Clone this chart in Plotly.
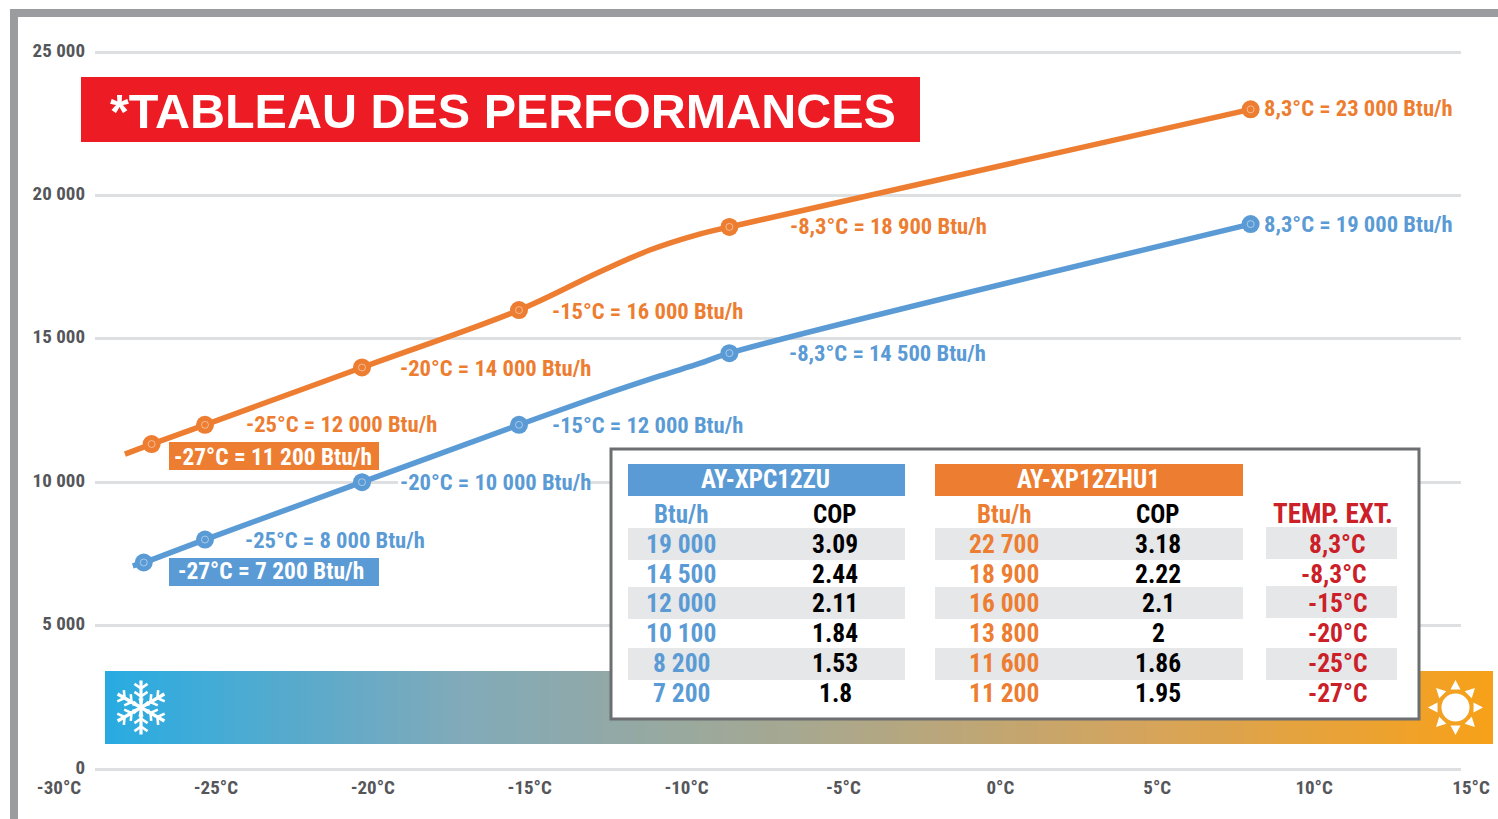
import math
import plotly.graph_objects as go

W, H = 1498, 819
NARROW = "Roboto Condensed, Open Sans Condensed, sans-serif"
BLUE, ORANGE, RED, GREY = "#5B9BD5", "#ED7D31", "#CB2027", "#55565A"

# ---- data
orange_temp = [-26.7, -25, -20, -15, -8.3, 8.3]
orange_btu = [11330, 12000, 14000, 16000, 18900, 23000]
blue_temp = [-26.95, -25, -20, -15, -8.3, 8.3]
blue_btu = [7200, 8000, 10000, 12000, 14500, 19000]
orange_curve_temp = [-27.55, -26.7, -25, -20, -15, -12.42, -10.83, -9.25, -8.3, 8.3]
orange_curve_btu = [10980, 11330, 12000, 14000, 16000, 17340, 18095, 18650, 18900, 23000]
blue_curve_temp = [-27.3, -26.95, -25, -20, -15, -12.42, -10.51, -9.25, -8.3, 8.3]
blue_curve_btu = [7080, 7200, 8000, 10000, 12000, 13006, 13704, 14140, 14500, 19000]
orange_labels = ["-25°C = 12 000 Btu/h", "-20°C = 14 000 Btu/h", "-15°C = 16 000 Btu/h",
                 "-8,3°C = 18 900 Btu/h", "8,3°C = 23 000 Btu/h"]
blue_labels = ["-25°C = 8 000 Btu/h", "-20°C = 10 000 Btu/h", "-15°C = 12 000 Btu/h",
               "-8,3°C = 14 500 Btu/h", "8,3°C = 19 000 Btu/h"]
label_orange_27 = "-27°C = 11 200 Btu/h"
label_blue_27 = "-27°C = 7 200 Btu/h"
x_ticks = [-30, -25, -20, -15, -10, -5, 0, 5, 10, 15]
x_ticktext = ["-30°C", "-25°C", "-20°C", "-15°C", "-10°C", "-5°C", "0°C", "5°C", "10°C", "15°C"]
y_ticks = [0, 5000, 10000, 15000, 20000, 25000]
y_ticktext = ["0", "5 000", "10 000", "15 000", "20 000", "25 000"]
title_text = "*TABLEAU DES PERFORMANCES"
model_blue = "AY-XPC12ZU"
model_orange = "AY-XP12ZHU1"
col_btu = "Btu/h"
col_cop = "COP"
col_temp = "TEMP. EXT."
blue_table_btu = ["19 000", "14 500", "12 000", "10 100", "8 200", "7 200"]
blue_table_cop = ["3.09", "2.44", "2.11", "1.84", "1.53", "1.8"]
orange_table_btu = ["22 700", "18 900", "16 000", "13 800", "11 600", "11 200"]
orange_table_cop = ["3.18", "2.22", "2.1", "2", "1.86", "1.95"]
table_temps = ["8,3°C", "-8,3°C", "-15°C", "-20°C", "-25°C", "-27°C"]

# ---- layout helpers
def fx(px): return px / W
def fy(py): return 1 - py / H

shapes, ann = [], []

def rect(x0, y0, x1, y1, fill, layer="above", line=None, lw=0):
    shapes.append(dict(type="rect", xref="paper", yref="paper", x0=fx(x0), x1=fx(x1),
                       y0=fy(y0), y1=fy(y1), fillcolor=fill, layer=layer,
                       line=dict(color=line or fill, width=lw)))

def text(px, py, s, color, size, family=NARROW, anchor="center"):
    ann.append(dict(xref="paper", yref="paper", x=fx(px), y=fy(py), text=s, showarrow=False,
                    xanchor=anchor, yanchor="middle",
                    font=dict(family=family, size=size, color=color, weight=700)))

def poly(points, fill):
    d = "M" + " L".join(f"{fx(a):.5f},{fy(b):.5f}" for a, b in points) + " Z"
    shapes.append(dict(type="path", path=d, xref="paper", yref="paper", fillcolor=fill,
                       layer="above", line=dict(color=fill, width=0)))

def seg(x0, y0, x1, y1, w=3):
    shapes.append(dict(type="line", xref="paper", yref="paper", x0=fx(x0), x1=fx(x1),
                       y0=fy(y0), y1=fy(y1), layer="above", line=dict(color="white", width=w)))

# frame
rect(10, 9, W, 17, "#9B9CA0", "below")
rect(10, 9, 18, H, "#9B9CA0", "below")
# gap in the 10 000 grid line behind its label
shapes.append(dict(type="rect", xref="x", yref="y", layer="between", x0=-18.85, x1=-12.8, y0=9850, y1=10150,
                   fillcolor="white", line=dict(width=0)))
# title banner
rect(81, 77, 920, 142, "#ED1C24")
text(503, 111, title_text, "white", 48.5, "Liberation Sans")
# -27 labels
rect(169, 442, 379, 470, ORANGE)
text(273, 457, label_orange_27, "white", 23.4)
rect(169, 558, 379, 586, BLUE)
text(271, 571, label_blue_27, "white", 23.4)

# snowflake
cx, cy = 141, 707.5
for k in range(6):
    a = math.radians(90 + 60 * k)
    ux, uy = math.cos(a), math.sin(a)
    seg(cx, cy, cx + 27 * ux, cy + 27 * uy, 3.2)
    for r, ln in ((19, 8), (11, 8)):
        bx, by = cx + r * ux, cy + r * uy
        for d in (-55, 55):
            b = a + math.radians(d)
            seg(bx, by, bx + ln * math.cos(b), by + ln * math.sin(b), 2.6)
    w = a + math.radians(90)
    poly([(cx + 9 * ux + 2.6 * math.cos(w), cy + 9 * uy + 2.6 * math.sin(w)),
          (cx + 9 * ux - 2.6 * math.cos(w), cy + 9 * uy - 2.6 * math.sin(w)),
          (cx, cy)], "white")
# sun
sx, sy = 1455.5, 707.5
shapes.append(dict(type="circle", xref="paper", yref="paper", x0=fx(sx - 14), x1=fx(sx + 14),
                   y0=fy(sy + 14), y1=fy(sy - 14), fillcolor="white", layer="above",
                   line=dict(color="white", width=0)))
for k in range(8):
    a = math.radians(45 * k)
    ux, uy = math.cos(a), math.sin(a)
    vx, vy = -uy, ux
    poly([(sx + 18 * ux + 5 * vx, sy + 18 * uy + 5 * vy),
          (sx + 18 * ux - 5 * vx, sy + 18 * uy - 5 * vy),
          (sx + 27.5 * ux, sy + 27.5 * uy)], "white")

# table
rect(611, 449, 1419, 719, "white", "above", "#6D6E71", 3)
rect(628, 464, 905, 496, BLUE)
rect(935, 464, 1243, 496, ORANGE)
text(765, 479, model_blue, "white", 25)
text(1088, 479, model_orange, "white", 25)
for y0 in (528, 587, 648):
    rect(628, y0, 905, y0 + 32, "#E6E7E8")
    rect(935, y0, 1243, y0 + 32, "#E6E7E8")
for y0 in (527, 586, 648):
    rect(1266, y0, 1397, y0 + 32, "#E6E7E8")
text(681, 514, col_btu, BLUE, 25)
text(835, 514, col_cop, "black", 25)
text(1004, 514, col_btu, ORANGE, 25)
text(1158, 514, col_cop, "black", 25)
text(1333, 514, col_temp, RED, 27)
row_y = [544, 574, 603, 633, 663, 693]
for i, y in enumerate(row_y):
    text(681, y, blue_table_btu[i], BLUE, 25.5)
    text(835, y, blue_table_cop[i], "black", 25.5)
    text(1004, y, orange_table_btu[i], ORANGE, 25.5)
    text(1158, y, orange_table_cop[i], "black", 25.5)
    text(1337 if i != 1 else 1334, y, table_temps[i], RED, 25.5)

# data labels anchored on their points
orange_shift = [39, 36, 31, 59, 11]
blue_shift = [38, 36, 31, 58, 11]
orange_yshift = [0, -1, -1, 0, 1]
blue_yshift = [-1, 0, -1, 0, 0]
for i in range(5):
    ann.append(dict(x=orange_temp[i + 1], y=orange_btu[i + 1], xref="x", yref="y", text=orange_labels[i],
                    showarrow=False, xanchor="left", yanchor="middle", xshift=orange_shift[i],
                    yshift=orange_yshift[i], font=dict(family=NARROW, size=22.6, color=ORANGE, weight=700)))
    ann.append(dict(x=blue_temp[i + 1], y=blue_btu[i + 1], xref="x", yref="y", text=blue_labels[i],
                    showarrow=False, xanchor="left", yanchor="middle", xshift=blue_shift[i],
                    yshift=blue_yshift[i], font=dict(family=NARROW, size=22.6, color=BLUE, weight=700)))

fig = go.Figure()
# gradient band
fig.add_trace(go.Heatmap(z=[list(range(128))], xaxis="x3", yaxis="y3", showscale=False, hoverinfo="skip",
                         colorscale=[[0, "#29ABE2"], [0.25, "#80AABA"], [0.5, "#A7A890"],
                                     [0.75, "#D5A45C"], [1, "#F7A11A"]]))
# invisible trace carrying the label axis
fig.add_trace(go.Scatter(x=[x_ticks[0], x_ticks[-1]], y=[0, 0], xaxis="x2", yaxis="y2", mode="none",
                         showlegend=False, hoverinfo="skip"))
for cxs, cys, xs, ys, c in ((orange_curve_temp, orange_curve_btu, orange_temp, orange_btu, ORANGE),
                            (blue_curve_temp, blue_curve_btu, blue_temp, blue_btu, BLUE)):
    fig.add_trace(go.Scatter(x=cxs, y=cys, mode="lines", showlegend=False, cliponaxis=False,
                             line=dict(color=c, width=5.5, shape="spline", smoothing=1)))
    fig.add_trace(go.Scatter(x=xs, y=ys, mode="markers", showlegend=False, cliponaxis=False,
                             marker=dict(size=18, color=c, line=dict(width=0))))
    fig.add_trace(go.Scatter(x=xs, y=ys, mode="markers", showlegend=False, cliponaxis=False,
                             marker=dict(size=7, symbol="circle-open", color="rgba(255,255,255,0.45)",
                                         line=dict(width=1, color="rgba(255,255,255,0.45)"))))

tickfont = dict(family=NARROW, size=19, color=GREY, weight=700)
fig.update_layout(
    width=W, height=H, margin=dict(l=0, r=0, t=0, b=0, pad=0, autoexpand=False), autosize=False,
    paper_bgcolor="white", plot_bgcolor="rgba(0,0,0,0)", showlegend=False,
    shapes=shapes, annotations=ann,
    xaxis=dict(domain=[fx(95), fx(1461)], range=[-28.503, 15], showgrid=False, zeroline=False,
               showticklabels=False, ticks="", showline=False, anchor="y"),
    yaxis=dict(domain=[fy(769), fy(49.13)], range=[0, 25100], tickvals=y_ticks, ticktext=y_ticktext,
               showgrid=True, gridcolor="#DEDFE0", gridwidth=2.5, zeroline=True, zerolinecolor="#DEDFE0",
               zerolinewidth=2.5, showline=False, ticks="", tickfont=tickfont, ticklabelstandoff=9,
               ticklabelshift=-2),
    xaxis2=dict(domain=[fx(43.3), fx(1486.7)], range=[-30.5, 15.5], anchor="y2", tickvals=x_ticks,
                ticktext=x_ticktext, showgrid=False, zeroline=False, showline=False, ticks="",
                tickfont=tickfont, ticklabelstandoff=5),
    yaxis2=dict(domain=[fy(769), fy(49.13)], range=[0, 25100], anchor="x2", showgrid=False, zeroline=False,
                showticklabels=False, ticks="", showline=False),
    xaxis3=dict(domain=[fx(105), fx(1493)], visible=False, anchor="y3", range=[-0.5, 127.5]),
    yaxis3=dict(domain=[fy(744), fy(671)], visible=False, anchor="x3", range=[-0.5, 0.5]),
)

fig.write_html("out.html", config={"displayModeBar": False},
               post_script="document.body.style.margin='0';document.body.style.overflow='hidden';")
